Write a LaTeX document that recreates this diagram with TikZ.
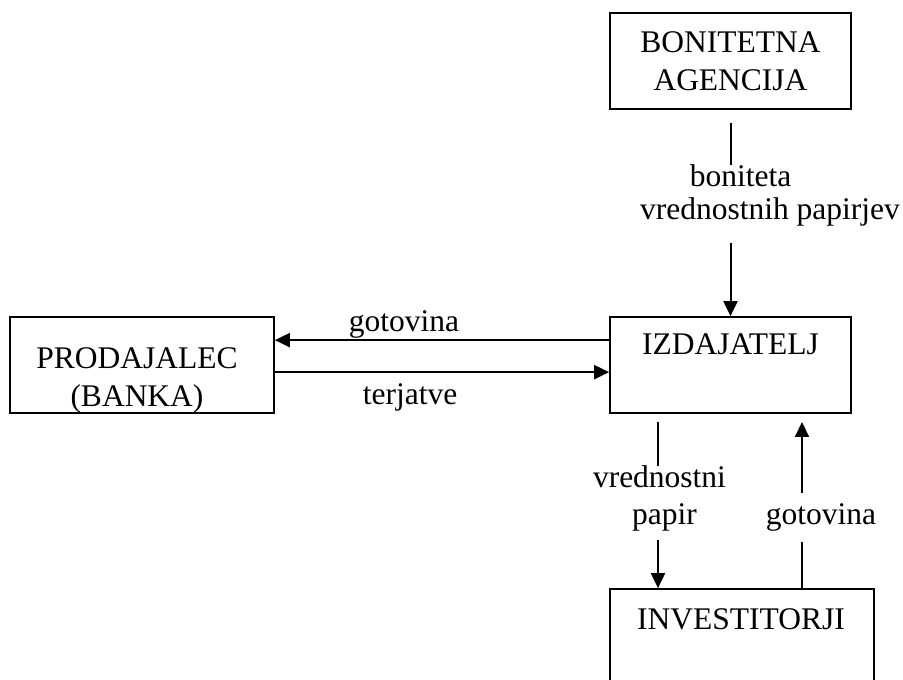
\documentclass[tikz,border=0pt]{standalone}
\usepackage{fontspec}
\setmainfont{Liberation Serif}
\usetikzlibrary{arrows.meta}
\tikzset{
  blok/.style={draw, line width=1.7pt, inner sep=0pt},
  besedilo/.style={inner sep=0pt, anchor=base, font=\fontsize{31.5}{38}\selectfont},
  tok/.style={line width=2pt},
  puscica/.style={tok, -{Triangle[width=14pt,length=15pt]}},
}
\begin{document}
\begin{tikzpicture}[x=1pt, y=1pt]
\useasboundingbox (0,0) rectangle (903,680);
% bloki
\node[blok, minimum width=241pt, minimum height=96pt] (agencija) at (730.5,619) {};
\node[blok, minimum width=241pt, minimum height=96pt] (izdajatelj) at (730.5,315) {};
\node[blok, minimum width=264pt, minimum height=96pt] (prodajalec) at (142,315) {};
\node[blok, minimum width=264pt, minimum height=101pt] (investitorji) at (742,40.5) {};

% napisi v blokih
\node[besedilo, anchor=center, align=center] (agencijatxt) at (agencija.center) {BONITETNA\\AGENCIJA};
\node[besedilo, align=center] (prodajalectxt) at (137,273) {PRODAJALEC\\(BANKA)};
\node[besedilo] (izdajateljtxt) at (730.5,325) {IZDAJATELJ};
\node[besedilo] (investitorjitxt) at (741,50) {INVESTITORJI};

% napisi ob tokovih
\node[besedilo] (bonitetatxt) at (740.5,493) {boniteta};
\node[besedilo] (vrednostnihtxt) at (770,460) {vrednostnih papirjev};
\node[besedilo] (gotovinagtxt) at (404,348) {gotovina};
\node[besedilo] (terjatvetxt) at (410,275) {terjatve};
\node[besedilo] (vrednostnitxt) at (659.5,192) {vrednostni};
\node[besedilo] (papirtxt) at (664.5,155) {papir};
\node[besedilo] (gotovinadtxt) at (821,155) {gotovina};

% tokovi
\coordinate (bonzac) at (730.5,557);
\coordinate (bonsp) at (730.5,437);
\draw[tok] (bonzac) -- (bonzac |- bonitetatxt.north);
\draw[puscica] (bonsp) -- (izdajatelj.north);

\draw[puscica] ([yshift=-24pt]izdajatelj.north west) -- ([yshift=-24pt]prodajalec.north east);
\draw[puscica] ([yshift=-56pt]prodajalec.north east) -- ([yshift=-56pt]izdajatelj.north west);

\coordinate (vpzg) at (658,258);
\coordinate (vpsp) at (658,140);
\draw[tok] (vpzg) -- (vpzg |- vrednostnitxt.north);
\draw[puscica] (vpsp) -- (vpsp |- investitorji.north);

\coordinate (gosp) at (802,138);
\coordinate (gozg) at (802,187);
\coordinate (gokon) at (802,258);
\draw[tok] (gosp |- investitorji.north) -- (gosp);
\draw[puscica] (gozg) -- (gokon);
\end{tikzpicture}
\end{document}
